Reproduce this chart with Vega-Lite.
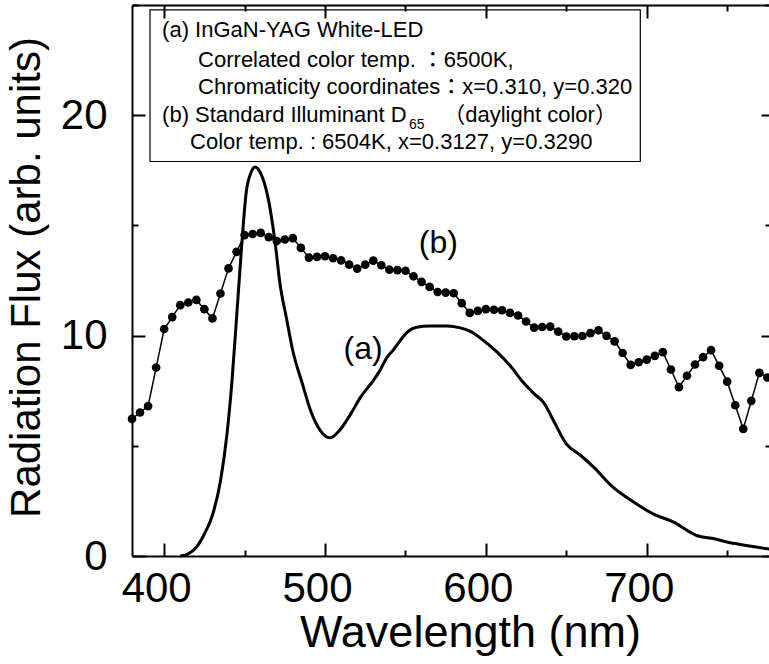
{
  "$schema": "https://vega.github.io/schema/vega-lite/v6.json",
  "width": 637,
  "height": 551,
  "autosize": "none",
  "padding": {"left": 132, "top": 5, "right": 0, "bottom": 108},
  "config": {
    "view": {"stroke": null},
    "font": "Liberation Sans",
    "axis": {"grid": false, "domainColor": "black", "tickColor": "black", "domainWidth": 2, "tickWidth": 2, "labelColor": "black", "titleColor": "black", "labelFont": "Liberation Sans", "titleFont": "Liberation Sans", "titleFontWeight": "normal"}
  },
  "datasets": {
    "d65": [
      {"wavelength": 380, "flux": 6.22}, {"wavelength": 385, "flux": 6.51}, {"wavelength": 390, "flux": 6.80}, {"wavelength": 395, "flux": 8.55},
      {"wavelength": 400, "flux": 10.30}, {"wavelength": 405, "flux": 10.84}, {"wavelength": 410, "flux": 11.38}, {"wavelength": 415, "flux": 11.50},
      {"wavelength": 420, "flux": 11.62}, {"wavelength": 425, "flux": 11.20}, {"wavelength": 430, "flux": 10.78}, {"wavelength": 435, "flux": 11.91},
      {"wavelength": 440, "flux": 13.05}, {"wavelength": 445, "flux": 13.80}, {"wavelength": 450, "flux": 14.56}, {"wavelength": 455, "flux": 14.61},
      {"wavelength": 460, "flux": 14.66}, {"wavelength": 465, "flux": 14.47}, {"wavelength": 470, "flux": 14.29}, {"wavelength": 475, "flux": 14.36},
      {"wavelength": 480, "flux": 14.42}, {"wavelength": 485, "flux": 13.98}, {"wavelength": 490, "flux": 13.54}, {"wavelength": 495, "flux": 13.57},
      {"wavelength": 500, "flux": 13.60}, {"wavelength": 505, "flux": 13.51}, {"wavelength": 510, "flux": 13.41}, {"wavelength": 515, "flux": 13.22},
      {"wavelength": 520, "flux": 13.04}, {"wavelength": 525, "flux": 13.22}, {"wavelength": 530, "flux": 13.40}, {"wavelength": 535, "flux": 13.19},
      {"wavelength": 540, "flux": 12.99}, {"wavelength": 545, "flux": 12.97}, {"wavelength": 550, "flux": 12.94}, {"wavelength": 555, "flux": 12.69},
      {"wavelength": 560, "flux": 12.44}, {"wavelength": 565, "flux": 12.21}, {"wavelength": 570, "flux": 11.98}, {"wavelength": 575, "flux": 11.95},
      {"wavelength": 580, "flux": 11.92}, {"wavelength": 585, "flux": 11.47}, {"wavelength": 590, "flux": 11.03}, {"wavelength": 595, "flux": 11.12},
      {"wavelength": 600, "flux": 11.20}, {"wavelength": 605, "flux": 11.17}, {"wavelength": 610, "flux": 11.15}, {"wavelength": 615, "flux": 11.03},
      {"wavelength": 620, "flux": 10.91}, {"wavelength": 625, "flux": 10.64}, {"wavelength": 630, "flux": 10.36}, {"wavelength": 635, "flux": 10.39},
      {"wavelength": 640, "flux": 10.41}, {"wavelength": 645, "flux": 10.18}, {"wavelength": 650, "flux": 9.96}, {"wavelength": 655, "flux": 9.97},
      {"wavelength": 660, "flux": 9.98}, {"wavelength": 665, "flux": 10.11}, {"wavelength": 670, "flux": 10.24}, {"wavelength": 675, "flux": 9.99},
      {"wavelength": 680, "flux": 9.74}, {"wavelength": 685, "flux": 9.21}, {"wavelength": 690, "flux": 8.67}, {"wavelength": 695, "flux": 8.79},
      {"wavelength": 700, "flux": 8.91}, {"wavelength": 705, "flux": 9.08}, {"wavelength": 710, "flux": 9.25}, {"wavelength": 715, "flux": 8.46},
      {"wavelength": 720, "flux": 7.66}, {"wavelength": 725, "flux": 8.18}, {"wavelength": 730, "flux": 8.69}, {"wavelength": 735, "flux": 9.02},
      {"wavelength": 740, "flux": 9.34}, {"wavelength": 745, "flux": 8.63}, {"wavelength": 750, "flux": 7.91}, {"wavelength": 755, "flux": 6.84},
      {"wavelength": 760, "flux": 5.77}, {"wavelength": 765, "flux": 7.04}, {"wavelength": 770, "flux": 8.31}, {"wavelength": 775, "flux": 8.10},
      {"wavelength": 780, "flux": 7.89}
    ],
    "led": [
      {"wavelength": 410, "flux": 0.0}, {"wavelength": 415, "flux": 0.1}, {"wavelength": 420, "flux": 0.4}, {"wavelength": 425, "flux": 1.0},
      {"wavelength": 430, "flux": 1.85}, {"wavelength": 435, "flux": 3.4}, {"wavelength": 439, "flux": 5.5}, {"wavelength": 442, "flux": 7.8},
      {"wavelength": 445, "flux": 10.8}, {"wavelength": 448, "flux": 13.9}, {"wavelength": 451, "flux": 16.5}, {"wavelength": 454, "flux": 17.4},
      {"wavelength": 456.5, "flux": 17.65}, {"wavelength": 458.5, "flux": 17.55}, {"wavelength": 461, "flux": 17.2}, {"wavelength": 465, "flux": 16.1},
      {"wavelength": 469, "flux": 14.2}, {"wavelength": 472, "flux": 12.35}, {"wavelength": 476, "flux": 10.8}, {"wavelength": 480, "flux": 9.3},
      {"wavelength": 486, "flux": 7.8}, {"wavelength": 491, "flux": 6.6}, {"wavelength": 497, "flux": 5.7}, {"wavelength": 503, "flux": 5.36},
      {"wavelength": 509, "flux": 5.7}, {"wavelength": 516, "flux": 6.45}, {"wavelength": 522, "flux": 7.2}, {"wavelength": 530, "flux": 7.96},
      {"wavelength": 534, "flux": 8.4}, {"wavelength": 538, "flux": 8.95}, {"wavelength": 543, "flux": 9.4}, {"wavelength": 547, "flux": 9.8},
      {"wavelength": 551, "flux": 10.15}, {"wavelength": 557, "flux": 10.38}, {"wavelength": 565, "flux": 10.43}, {"wavelength": 576, "flux": 10.43},
      {"wavelength": 584, "flux": 10.35}, {"wavelength": 590, "flux": 10.2}, {"wavelength": 598.5, "flux": 9.78}, {"wavelength": 607, "flux": 9.25},
      {"wavelength": 615, "flux": 8.64}, {"wavelength": 623, "flux": 7.89}, {"wavelength": 630, "flux": 7.36}, {"wavelength": 636, "flux": 6.95},
      {"wavelength": 642, "flux": 6.15}, {"wavelength": 650, "flux": 5.09}, {"wavelength": 659, "flux": 4.56}, {"wavelength": 667, "flux": 4.03},
      {"wavelength": 679, "flux": 3.12}, {"wavelength": 692, "flux": 2.44}, {"wavelength": 704, "flux": 1.91}, {"wavelength": 717, "flux": 1.53},
      {"wavelength": 731, "flux": 0.93}, {"wavelength": 742, "flux": 0.78}, {"wavelength": 752, "flux": 0.6}, {"wavelength": 762, "flux": 0.48},
      {"wavelength": 775, "flux": 0.33}, {"wavelength": 780, "flux": 0.3}
    ],
    "box": [{"x1": 391.2, "x2": 696.0, "y1": 24.78, "y2": 17.9}],
    "boxtext": [
      {"x": 398.7, "y": 23.54, "text": "(a) InGaN-YAG White-LED"},
      {"x": 421.1, "y": 22.18, "text": "Correlated color temp. ：6500K,"},
      {"x": 421.1, "y": 20.97, "text": "Chromaticity coordinates：x=0.310, y=0.320"},
      {"x": 398.7, "y": 19.68, "text": "(b) Standard Illuminant D"},
      {"x": 573.5, "y": 19.68, "text": "（daylight color）"},
      {"x": 416.1, "y": 18.48, "text": "Color temp. : 6504K, x=0.3127, y=0.3290"}
    ],
    "sub": [{"x": 552.2, "y": 19.38, "text": "65"}],
    "curvelabels": [
      {"x": 523.7, "y": 9.41, "text": "(a)"},
      {"x": 570.4, "y": 14.22, "text": "(b)"}
    ]
  },
  "layer": [
    {
      "data": {"name": "d65"},
      "mark": {"type": "line", "color": "black", "strokeWidth": 1.5, "point": {"filled": true, "size": 75, "color": "black"}},
      "encoding": {
        "x": {"field": "wavelength", "type": "quantitative", "scale": {"domain": [380, 776], "nice": false, "zero": false},
          "axis": {"orient": "bottom", "title": "Wavelength (nm)", "values": [400, 450, 500, 550, 600, 650, 700, 750],
            "tickSize": {"condition": {"test": "datum.value % 100 === 0", "value": -13}, "value": -6},
            "labelExpr": "datum.value % 100 === 0 ? datum.label : ''", "labelPadding": 25, "labelFontSize": 42, "labelFlush": false, "labelOffset": -8,
            "titleFontSize": 45, "titleX": 338, "titleY": 90, "titleBaseline": "alphabetic", "titleAlign": "center"}},
        "y": {"field": "flux", "type": "quantitative", "scale": {"domain": [0, 25], "nice": false},
          "axis": {"orient": "left", "title": "Radiation Flux (arb. units)", "values": [0, 5, 10, 15, 20, 25],
            "tickSize": {"condition": {"test": "datum.value % 10 === 0", "value": -13}, "value": -6},
            "labelExpr": "datum.value % 10 === 0 ? datum.label : ''", "labelPadding": 38, "labelFontSize": 42, "labelFlush": false,
            "titleFontSize": 42, "titleX": -93, "titleY": 272, "titleBaseline": "alphabetic", "titleAlign": "center", "titleAngle": -90}}
      }
    },
    {
      "data": {"name": "led"},
      "mark": {"type": "line", "color": "black", "strokeWidth": 3, "interpolate": "monotone"},
      "encoding": {
        "x": {"field": "wavelength", "type": "quantitative",
          "axis": {"orient": "top", "title": null, "labels": false, "values": [400, 450, 500, 550, 600, 650, 700, 750],
            "tickSize": {"condition": {"test": "datum.value % 100 === 0", "value": -13}, "value": -6}}},
        "y": {"field": "flux", "type": "quantitative",
          "axis": {"orient": "right", "title": null, "labels": false, "domain": false, "values": [0, 5, 10, 15, 20, 25],
            "tickSize": {"condition": {"test": "datum.value % 10 === 0", "value": -8}, "value": -4}}}
      }
    },
    {
      "data": {"name": "box"},
      "mark": {"type": "rect", "filled": false, "stroke": "black", "strokeWidth": 1.2},
      "encoding": {
        "x": {"field": "x1", "type": "quantitative", "axis": null}, "x2": {"field": "x2"},
        "y": {"field": "y1", "type": "quantitative", "axis": null}, "y2": {"field": "y2"}
      }
    },
    {
      "data": {"name": "boxtext"},
      "mark": {"type": "text", "align": "left", "baseline": "alphabetic", "fontSize": 22, "font": "Liberation Sans, Noto Sans CJK JP", "color": "black"},
      "encoding": {
        "x": {"field": "x", "type": "quantitative", "axis": null},
        "y": {"field": "y", "type": "quantitative", "axis": null},
        "text": {"field": "text"}
      }
    },
    {
      "data": {"name": "sub"},
      "mark": {"type": "text", "align": "left", "baseline": "alphabetic", "fontSize": 14, "font": "Liberation Sans", "color": "black"},
      "encoding": {
        "x": {"field": "x", "type": "quantitative", "axis": null},
        "y": {"field": "y", "type": "quantitative", "axis": null},
        "text": {"field": "text"}
      }
    },
    {
      "data": {"name": "curvelabels"},
      "mark": {"type": "text", "align": "center", "baseline": "middle", "fontSize": 32, "font": "Liberation Sans", "color": "black"},
      "encoding": {
        "x": {"field": "x", "type": "quantitative", "axis": null},
        "y": {"field": "y", "type": "quantitative", "axis": null},
        "text": {"field": "text"}
      }
    }
  ],
  "resolve": {"axis": {"x": "independent", "y": "independent"}}
}
